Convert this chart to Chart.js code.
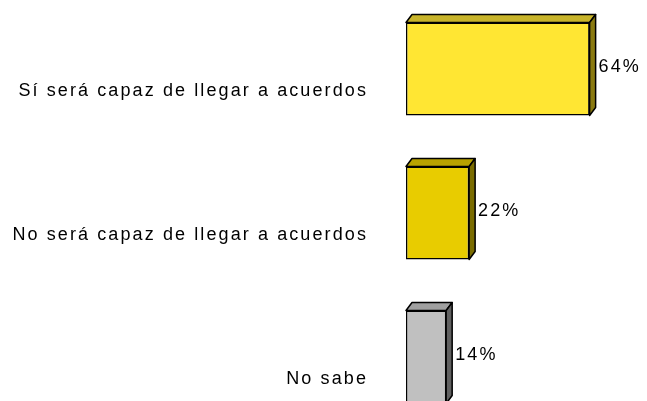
<!DOCTYPE html>
<html>
<head>
<meta charset="utf-8">
<script src="https://cdn.jsdelivr.net/npm/chart.js@4"></script>
<style>
  html, body { margin: 0; padding: 0; background: #fff; overflow: hidden; }
  body { width: 647px; height: 401px; position: relative; }
  #wrap { position: absolute; left: 0; top: -3px; width: 647px; height: 432px; }
</style>
</head>
<body>
<div id="wrap"><canvas id="chart"></canvas></div>
<script>
const categories = ["Sí será capaz de llegar a acuerdos", "No será capaz de llegar a acuerdos", "No sabe"];
const values = [64, 22, 14];
const frontColors = ["#FFE633", "#E8CC00", "#C0C0C0"];
const topColors = ["#C8B42A", "#B8A200", "#A0A0A0"];
const sideColors = ["#8A7A10", "#7A6C00", "#606060"];

const FONT = "18px 'Liberation Sans', Arial, sans-serif";
const SPACING = "2.1px";
const DX = 6, DY = 8;

// fake 3d faces + value labels
const bars3d = {
  id: "bars3d",
  beforeDraw(chart) {
    chart.ctx.letterSpacing = SPACING;
  },
  afterDatasetsDraw(chart) {
    const ctx = chart.ctx;
    const meta = chart.getDatasetMeta(0);
    meta.data.forEach((bar, i) => {
      const top = bar.y - bar.height / 2;
      const bottom = bar.y + bar.height / 2;
      const left = bar.base;
      const right = bar.x;
      ctx.save();
      ctx.lineWidth = 1.5;
      ctx.strokeStyle = "#000";
      ctx.lineJoin = "round";
      // top face
      ctx.beginPath();
      ctx.moveTo(left, top);
      ctx.lineTo(left + DX, top - DY);
      ctx.lineTo(right + DX, top - DY);
      ctx.lineTo(right, top);
      ctx.closePath();
      ctx.fillStyle = topColors[i];
      ctx.fill();
      ctx.stroke();
      // side face
      ctx.beginPath();
      ctx.moveTo(right, top);
      ctx.lineTo(right + DX, top - DY);
      ctx.lineTo(right + DX, bottom - DY);
      ctx.lineTo(right, bottom);
      ctx.closePath();
      ctx.fillStyle = sideColors[i];
      ctx.fill();
      ctx.stroke();
      // value
      ctx.letterSpacing = SPACING;
      ctx.font = FONT;
      ctx.fillStyle = "#000";
      ctx.textAlign = "left";
      ctx.textBaseline = "middle";
      ctx.fillText(values[i] + "%", right + DX + 3, bar.y - 2);
      ctx.restore();
    });
  }
};

new Chart(document.getElementById("chart"), {
  type: "bar",
  data: {
    labels: categories,
    datasets: [{
      data: values,
      backgroundColor: frontColors,
      borderColor: "#000",
      borderWidth: 1.5,
      borderSkipped: false,
      barPercentage: 0.645,
      categoryPercentage: 1
    }]
  },
  plugins: [bars3d],
  options: {
    indexAxis: "y",
    responsive: true,
    maintainAspectRatio: false,
    animation: false,
    layout: { padding: 0 },
    plugins: {
      legend: { display: false },
      tooltip: { enabled: false }
    },
    scales: {
      x: {
        display: false,
        min: 0,
        max: 84
      },
      y: {
        grid: { display: false, drawTicks: false },
        border: { display: false },
        afterFit(scale) {
          scale.width = 406;
          scale.paddingTop = 0;
          scale.paddingBottom = 0;
        },
        ticks: {
          color: "#000",
          padding: 38,
          labelOffset: 22,
          font: { family: "'Liberation Sans', Arial, sans-serif", size: 18 }
        }
      }
    }
  }
});
</script>
</body>
</html>
